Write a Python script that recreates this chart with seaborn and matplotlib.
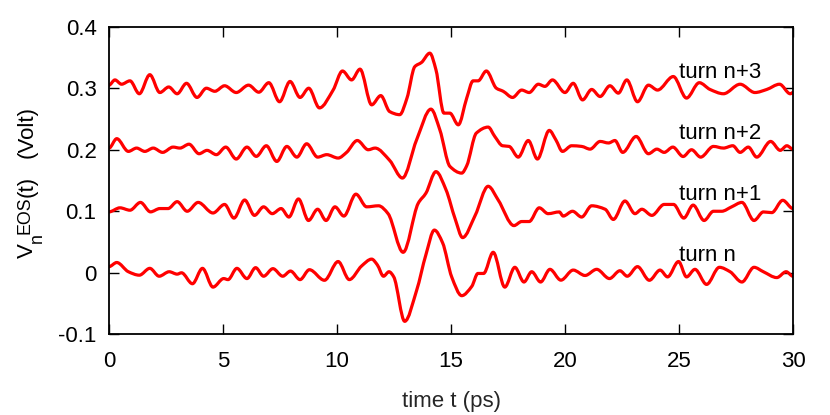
import matplotlib
matplotlib.use("Agg")
import matplotlib.pyplot as plt
from matplotlib.path import Path
from matplotlib.patches import PathPatch
import seaborn as sns
import pandas as pd

# ---- data (time in ps, signal in Volt) ----
t_n3 = [0, 0.26, 0.55, 0.92, 1.33, 1.79, 2.23, 2.62, 2.99, 3.40, 3.86, 4.27, 4.64, 5.07,
        5.58, 6.12, 6.57, 7.01, 7.48, 7.94, 8.38, 8.76, 9.23, 9.83, 10.24, 10.64, 11.01,
        11.52, 11.92, 12.31, 12.75, 13.07, 13.41, 13.71, 14.07, 14.34, 14.69, 14.95, 15.32,
        15.69, 15.97, 16.19, 16.55, 16.99, 17.29, 17.70, 18.10, 18.43, 18.83, 19.12, 19.45,
        20.0, 20.36, 20.77, 21.17, 21.54, 21.97, 22.34, 22.71, 23.18, 23.66, 24.06, 24.75,
        25.33, 25.89, 26.36, 26.95, 27.68, 28.33, 28.85, 29.41, 29.88, 30.0]
v_n3 = [.305, .3135, .3065, .312, .291, .322, .293, .302, .291, .308, .285, .300, .295, .304,
        .293, .305, .2935, .309, .278, .311, .285, .300, .268, .297, .328, .3135, .331,
        .273, .288, .262, .257, .284, .335, .342, .357, .330, .2595, .2595, .2405,
        .284, .312, .312, .328, .300, .295, .285, .297, .293, .3065, .303, .3135,
        .293, .308, .281, .298, .2865, .304, .292, .3135, .278, .305, .297, .319,
        .284, .309, .298, .291, .3065, .293, .298, .3065, .291, .293]

t_n2 = [0, 0.34, 0.85, 1.21, 1.57, 1.94, 2.35, 2.81, 3.11, 3.51, 3.95, 4.30, 4.71, 5.12,
        5.58, 6.05, 6.46, 6.90, 7.36, 7.80, 8.24, 8.67, 9.15, 9.55, 10.05, 10.42, 10.89,
        11.37, 11.67, 12.31, 12.87, 13.49, 14.12, 14.51, 14.95, 15.47, 15.69, 16.11, 16.63,
        16.92, 17.26, 17.55, 17.95, 18.39, 18.79, 19.31, 19.60, 19.89, 20.29, 20.73, 21.10,
        21.54, 21.91, 22.19, 22.53, 23.12, 23.66, 24.03, 24.35, 24.73, 25.18, 25.55, 25.95,
        26.51, 26.95, 27.36, 27.68, 28.04, 28.41, 29.02, 29.44, 29.73, 30.0]
v_n2 = [.2027, .218, .1973, .2027, .1973, .2027, .1957, .2043, .2027, .209, .1935, .199, .192, .2043,
        .1849, .2043, .1892, .2065, .181, .2054, .188, .2097, .188, .192, .1865, .1957, .215,
        .200, .2027, .1827, .154, .216, .266, .2324, .173, .162, .174, .227, .2368,
        .2216, .2065, .2054, .188, .215, .1849, .2314, .216, .1973, .2065, .2054, .201,
        .2135, .211, .215, .1957, .2216, .1935, .201, .1957, .2043, .189, .200, .188,
        .2054, .2027, .2065, .1957, .2043, .188, .2135, .199, .2065, .201]

t_n1 = [0, 0.48, 0.92, 1.38, 1.82, 2.23, 2.59, 2.99, 3.43, 3.91, 4.56, 5.07, 5.48, 5.95,
        6.38, 6.78, 7.16, 7.55, 7.89, 8.31, 8.75, 9.15, 9.52, 9.91, 10.30, 10.83, 11.30,
        11.82, 12.24, 12.90, 13.56, 13.90, 14.34, 14.78, 15.18, 15.51, 16.06, 16.63, 17.07,
        17.76, 18.10, 18.43, 18.87, 19.26, 19.75, 19.92, 20.33, 20.73, 21.17, 21.76, 22.12,
        22.63, 23.07, 23.37, 23.81, 24.35, 24.76, 25.21, 25.62, 26.10, 26.51, 26.87, 27.31,
        27.76, 28.29, 28.70, 29.07, 29.55, 30.0]
v_n1 = [.099, .1056, .1017, .1144, .099, .1044, .1044, .1156, .100, .1144, .0972, .1111, .0889, .1183,
        .0933, .1072, .0961, .1044, .0906, .120, .085, .1033, .085, .1072, .0922, .1278, .1072,
        .1089, .0961, .0333, .1128, .1294, .1644, .135, .0878, .0572, .0933, .1406, .1183,
        .0767, .0833, .0833, .1056, .0961, .0989, .0922, .100, .0906, .1089, .1033, .0867,
        .1167, .0961, .1033, .0933, .1111, .1111, .0889, .110, .085, .100, .100, .1072,
        .1144, .085, .0989, .0978, .1178, .1044]

t_n0 = [0, 0.34, 0.85, 1.33, 1.79, 2.20, 2.64, 2.99, 3.18, 3.66, 4.10, 4.56, 5.03, 5.22,
        5.61, 6.05, 6.43, 6.78, 7.19, 7.62, 7.96, 8.38, 8.79, 9.45, 10.05, 10.54, 11.08,
        11.52, 11.77, 12.04, 12.28, 12.49, 12.97, 13.49, 13.90, 14.27, 14.63, 15.03, 15.47,
        15.91, 16.18, 16.43, 16.85, 17.36, 17.80, 18.20, 18.54, 18.93, 19.34, 19.82, 20.36,
        20.88, 21.39, 21.95, 22.41, 22.73, 23.18, 23.70, 24.17, 24.50, 24.98, 25.33, 25.70,
        26.21, 26.77, 27.24, 27.76, 28.29, 28.70, 29.29, 29.70, 30.0]
v_n0 = [.010, .0167, .0017, -.0039, .0072, -.0056, .0017, -.0022, 0, -.0178, .0072, -.0233, -.0094, -.0111,
        .0072, -.0094, .0083, -.0056, .0067, -.0056, .0028, -.0111, .005, -.0122, .0183, -.0111, .0111,
        .0222, .0128, -.0056, .0017, -.0067, -.0789, -.0289, .0294, .0694, .0489, -.0067, -.0372,
        -.0222, -.0011, -.0011, .0333, -.0233, .0089, -.015, .0017, -.015, .0056, -.012, .0044,
        -.0044, .0056, -.0094, .0033, -.0056, .010, -.0122, .0044, -.0067, .0183, -.0067, .0056,
        -.0189, .0089, .0017, -.015, .0089, .0017, -.0078, .0017, -.0056]

turn_labels = ["turn n", "turn n+1", "turn n+2", "turn n+3"]
label_y = [0.0188, 0.1177, 0.2177, 0.316]
label_x = 25.0

x_ticks = [0, 5, 10, 15, 20, 25, 30]
y_ticks = [-0.1, 0, 0.1, 0.2, 0.3, 0.4]
y_tick_labels = ["-0.1", "0", "0.1", "0.2", "0.3", "0.4"]
x_label = "time t (ps)"

# ---- build long table ----
frames = []
for name, tt, vv in zip(turn_labels, [t_n0, t_n1, t_n2, t_n3], [v_n0, v_n1, v_n2, v_n3]):
    frames.append(pd.DataFrame({"t": tt, "v": vv, "turn": name}))
df = pd.concat(frames, ignore_index=True)

sns.set_style("ticks")
plt.rcParams["font.family"] = ["Liberation Sans", "DejaVu Sans"]
plt.rcParams["axes.unicode_minus"] = False

W, H = 830, 415
fig = plt.figure(figsize=(W / 100, H / 100), dpi=100)
ax = fig.add_axes([109 / W, 1 - 334.3 / H, (793 - 109) / W, (334.3 - 26.7) / H])

sns.lineplot(data=df, x="t", y="v", units="turn", estimator=None, sort=False,
             color="#ff0000", linewidth=2.3, ax=ax, legend=False)


def slopes(xs, ys):
    """Monotone (Fritsch-Carlson) tangents: zero at local extrema."""
    n = len(xs)
    d = [(ys[i + 1] - ys[i]) / (xs[i + 1] - xs[i]) for i in range(n - 1)]
    m = [0.0] * n
    for i in range(1, n - 1):
        if d[i - 1] * d[i] > 0:
            m[i] = 2.0 / (1.0 / d[i - 1] + 1.0 / d[i])
    return m


# render each seaborn trace as a smooth curve through its read points
for line in list(ax.get_lines()):
    xs, ys = list(line.get_xdata()), list(line.get_ydata())
    m = slopes(xs, ys)
    verts = [(xs[0], ys[0])]
    codes = [Path.MOVETO]
    for i in range(len(xs) - 1):
        dx = xs[i + 1] - xs[i]
        verts += [(xs[i] + dx / 3, ys[i] + m[i] * dx / 3),
                  (xs[i + 1] - dx / 3, ys[i + 1] - m[i + 1] * dx / 3),
                  (xs[i + 1], ys[i + 1])]
        codes += [Path.CURVE4] * 3
    ax.add_patch(PathPatch(Path(verts, codes), fill=False, edgecolor=line.get_color(),
                           linewidth=line.get_linewidth(), capstyle="round",
                           joinstyle="round", zorder=2))
    line.set_visible(False)

for lab, ly in zip(turn_labels, label_y):
    ax.text(label_x, ly, lab, fontsize=16, ha="left", va="baseline", color="black")

ax.set_xlim(0, 30)
ax.set_ylim(-0.1, 0.4)
ax.set_xticks(x_ticks)
ax.set_xticklabels([str(x) for x in x_ticks])
ax.set_yticks(y_ticks)
ax.set_yticklabels(y_tick_labels)
ax.tick_params(direction="in", length=7.5, width=1.0, top=True, right=True,
               labelsize=16, colors="black")
ax.tick_params(axis="x", pad=12)
ax.tick_params(axis="y", pad=9)
for s in ax.spines.values():
    s.set_visible(True)
    s.set_linewidth(1.3)
    s.set_color("black")

ax.set_xlabel(x_label, fontsize=16, labelpad=14)
ax.set_ylabel("")


def fx(px):
    return px / W


def fy(py):
    return 1 - py / H


# y label: V with subscript n and superscript EOS, written bottom-to-top
ylab_parts = [("V", 33.0, 258.0, 16), ("n", 41.5, 243.0, 12.8),
              ("EOS", 29.0, 233.5, 12.8), ("(t)", 33.0, 197.0, 16), ("(Volt)", 33.0, 158.0, 16)]
for txt, bx, by, fs in ylab_parts:
    fig.text(fx(bx), fy(by), txt, fontsize=fs, rotation=90, rotation_mode="anchor",
             ha="left", va="baseline", color="black")

fig.savefig("out.png", dpi=100)
